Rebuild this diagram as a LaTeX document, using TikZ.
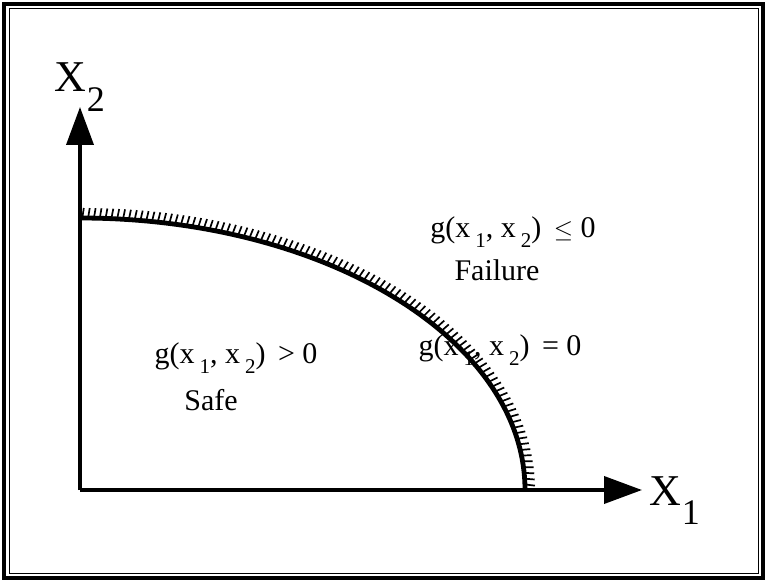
\documentclass[tikz,border=0pt]{standalone}
\usepackage{fontspec}
\setmainfont{Liberation Serif}
\usetikzlibrary{arrows.meta,decorations.markings}

\newcommand{\sbs}[1]{\raisebox{-0.75ex}{\fontsize{21}{21}\selectfont #1}}
\newcommand{\bigsbs}[1]{\raisebox{-0.95ex}{\fontsize{36}{36}\selectfont #1}}
\newcommand{\gfun}{g(x\,\sbs{1}, x\,\sbs{2})}

\tikzset{
  axis/.style={line width=3.8pt,-{Triangle[length=38pt,width=27pt]}},
  boundary/.style={line width=4.8pt,
    postaction={decorate,decoration={markings,
      mark=between positions 0.004 and 0.998 step 5.8pt with
        {\draw[line width=1.7pt] (0pt,0pt) -- (1.5pt,10pt);}}}},
  lbl/.style={font=\fontsize{30}{34}\selectfont,inner sep=0pt},
  axlbl/.style={font=\fontsize{44}{48}\selectfont,inner sep=0pt}
}

\begin{document}
\begin{tikzpicture}[x=1pt,y=1pt]
\useasboundingbox (0,0) rectangle (767,582);
% frame
\draw[line width=3.5pt] (4,4) rectangle (763,578);
\draw[line width=1pt] (9,9) rectangle (758,573);

% axes
\coordinate (O) at (80,92);
\coordinate (xend) at (642,92);
\coordinate (yend) at (80,475);
\draw[axis] (O) -- (xend);
\draw[axis] (O) -- (yend);
\node[axlbl,anchor=base west] (x1) at (649,77) {X\kern1pt\bigsbs{1}};
\node[axlbl,anchor=base west] (x2) at (54,490) {X\kern1pt\bigsbs{2}};

% limit state curve
\coordinate (top) at (80,364);
\draw[boundary] (top) arc[start angle=90,end angle=0,x radius=445pt,y radius=272pt];

% labels
\node[lbl] (fail) at (513,350) {\gfun{}\, $\le$ 0};
\node[lbl] (failtxt) at (497,312) {Failure};
\node[lbl] (safe) at (236,224) {\gfun{}\, > 0};
\node[lbl] (safetxt) at (211,182) {Safe};
\node[lbl] (lim) at (500,232) {\gfun{}\, = 0};
\end{tikzpicture}
\end{document}
